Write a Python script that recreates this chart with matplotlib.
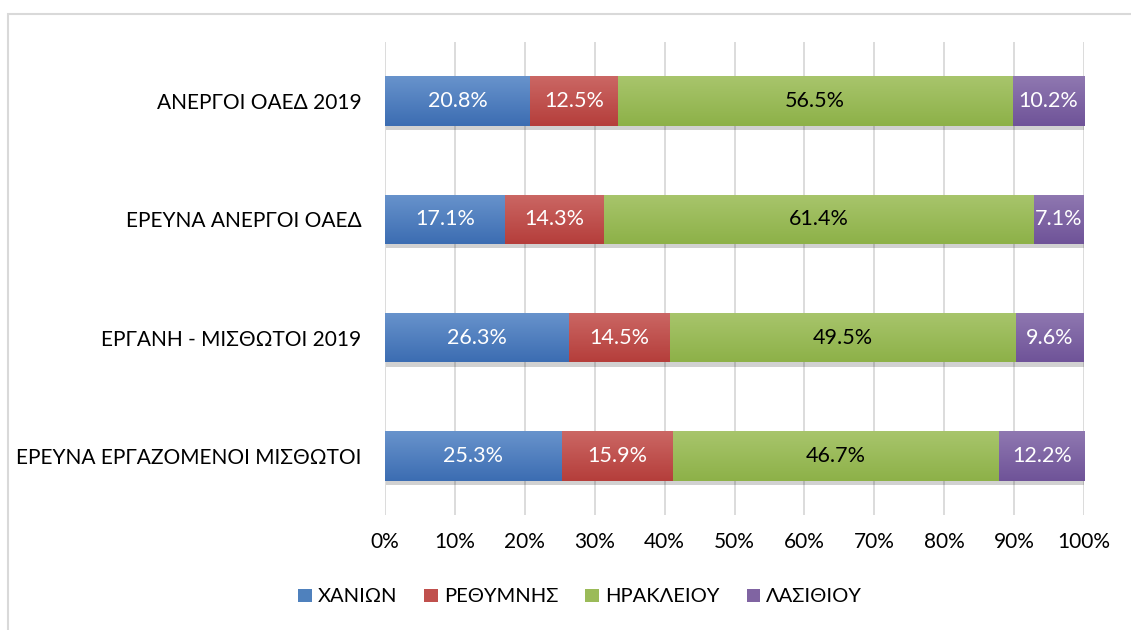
import matplotlib
matplotlib.use("Agg")
import matplotlib.pyplot as plt
import numpy as np
from matplotlib import patheffects as pe
from matplotlib.patches import Rectangle
from matplotlib.colors import LinearSegmentedColormap

plt.rcParams['font.family'] = ['Lato', 'Noto Sans', 'DejaVu Sans']

categories = ["ΕΡΕΥΝΑ ΕΡΓΑΖΟΜΕΝΟΙ ΜΙΣΘΩΤΟΙ", "ΕΡΓΑΝΗ - ΜΙΣΘΩΤΟΙ 2019",
              "ΕΡΕΥΝΑ ΑΝΕΡΓΟΙ ΟΑΕΔ", "ΑΝΕΡΓΟΙ ΟΑΕΔ 2019"]
series_names = ["ΧΑΝΙΩΝ", "ΡΕΘΥΜΝΗΣ", "ΗΡΑΚΛΕΙΟΥ", "ΛΑΣΙΘΙΟΥ"]
chania = [25.3, 26.3, 17.1, 20.8]
rethymno = [15.9, 14.5, 14.3, 12.5]
heraklion = [46.7, 49.5, 61.4, 56.5]
lasithi = [12.2, 9.6, 7.1, 10.2]
xticks = [0, 10, 20, 30, 40, 50, 60, 70, 80, 90, 100]

series = [chania, rethymno, heraklion, lasithi]
base_cols = ["#4f81bd", "#c0504d", "#9bbb59", "#8064a2"]
top_cols = ["#6893cc", "#cb6764", "#a8c56c", "#8f78b1"]
bot_cols = ["#3c6db2", "#b53e3b", "#8db148", "#6f5398"]
label_cols = ["white", "white", "black", "white"]

fig = plt.figure(figsize=(11.31, 6.30), dpi=100)
# outer chart border
fig.patches.append(Rectangle((8/1131, -0.01), 1.2, 1 - 14/630 + 0.01,
                             transform=fig.transFigure, fill=False,
                             edgecolor="#d9d9d9", linewidth=1.5))
ax = fig.add_axes([385/1131, 1 - 515/630, (1084 - 385)/1131, (515 - 42)/630])

y = np.arange(len(categories))
left = np.zeros(len(categories))
handles = []
for i, vals in enumerate(series):
    vals = np.array(vals)
    bars = ax.barh(y, vals, left=left, height=0.42, color=base_cols[i],
                   edgecolor="none", zorder=3, label=series_names[i])
    handles.append(bars)
    cmap = LinearSegmentedColormap.from_list("g", [top_cols[i], bot_cols[i]])
    grad = np.linspace(0, 1, 64).reshape(-1, 1)
    for b in bars:
        b.set_path_effects([pe.SimplePatchShadow(offset=(0.5, -3), shadow_rgbFace="#000000", alpha=0.18), pe.Normal()])
        x0, y0 = b.get_x(), b.get_y()
        w, h = b.get_width(), b.get_height()
        im = ax.imshow(grad, cmap=cmap, aspect="auto", extent=(x0, x0 + w, y0, y0 + h),
                       origin="upper", zorder=4, interpolation="bilinear")
        im.set_clip_path(b)
    for j, v in enumerate(vals):
        ax.text(left[j] + v / 2, y[j], f"{v:.1f}%", ha="center", va="center",
                color=label_cols[i], fontsize=15.5, zorder=6)
    left = left + vals

ax.set_xlim(0, 100)
ax.set_ylim(-0.5, len(categories) - 0.5)
ax.set_xticks(xticks)
ax.set_xticklabels([f"{t}%" for t in xticks], fontsize=15)
ax.set_yticks(y)
ax.set_yticklabels(categories, fontsize=15)
ax.tick_params(axis="both", length=0, pad=12)
ax.tick_params(axis="y", pad=17)
ax.grid(axis="x", color="#d9d9d9", linewidth=1.3, zorder=0)
ax.set_axisbelow(True)
for s in ax.spines.values():
    s.set_visible(False)

leg = fig.legend(handles=handles, labels=series_names, loc="center",
                 bbox_to_anchor=(580/1131, 1 - 597/630), ncol=4, frameon=False,
                 fontsize=14.5, handlelength=0.67, handleheight=0.67,
                 handletextpad=0.3, columnspacing=1.35)
for h in leg.legend_handles:
    h.set_path_effects([])

fig.savefig("out.png", dpi=100)
